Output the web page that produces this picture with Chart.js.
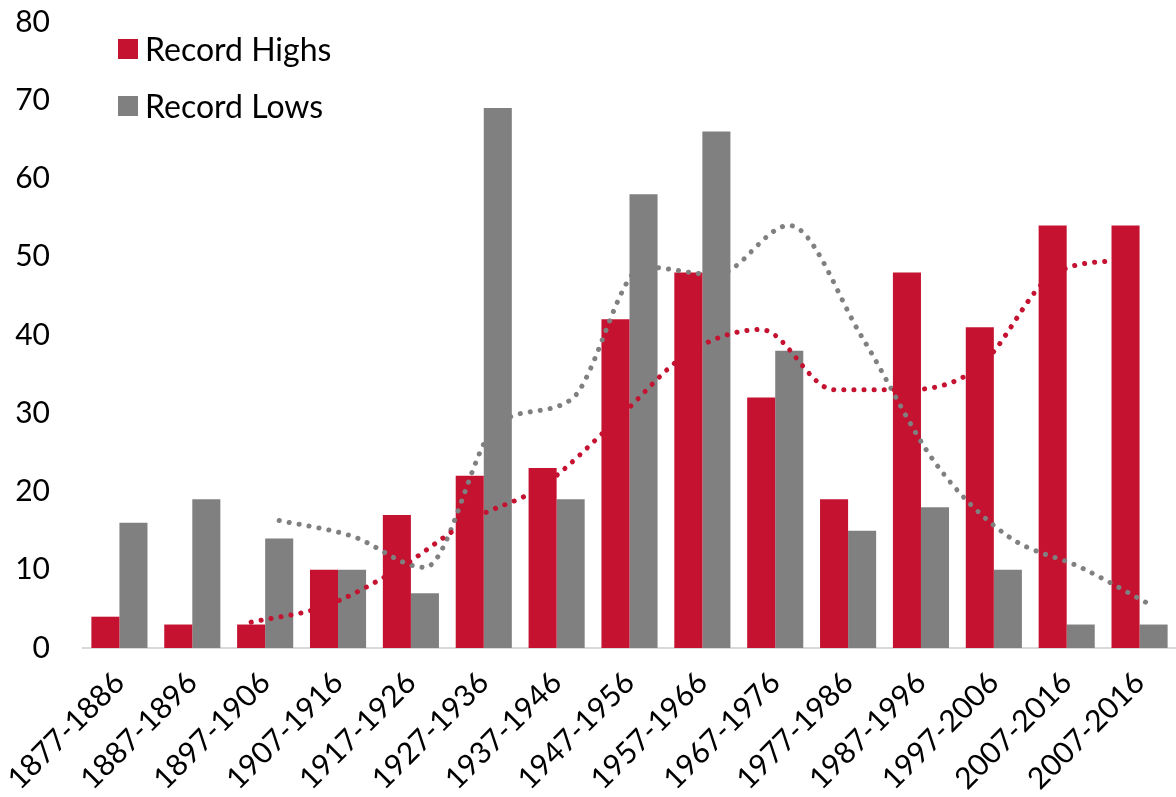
<!DOCTYPE html>
<html>
<head>
<meta charset="utf-8">
<script src="https://cdn.jsdelivr.net/npm/chart.js@4"></script>
<style>
  html, body { margin: 0; padding: 0; background: #fff; }
  #wrap { position: relative; width: 1176px; height: 797px; }
  #legend { position: absolute; left: 118px; top: 20px; font-family: Lato, sans-serif; font-size: 32px; color: #000; }
  #legend div { display: flex; align-items: center; height: 57px; }
  #legend span.box { display: inline-block; width: 20px; height: 20px; margin-right: 7px; }
</style>
</head>
<body>
<div id="wrap">
  <canvas id="chart" width="1176" height="797"></canvas>
  <div id="legend"></div>
</div>
<script>
const categories = ['1877-1886', '1887-1896', '1897-1906', '1907-1916', '1917-1926', '1927-1936', '1937-1946',
    '1947-1956', '1957-1966', '1967-1976', '1977-1986', '1987-1996', '1997-2006', '2007-2016', '2007-2016'];
const recordHighs = [4, 3, 3, 10, 17, 22, 23, 42, 48, 32, 19, 48, 41, 54, 54];
const recordLows = [16, 19, 14, 10, 7, 69, 19, 58, 66, 38, 15, 18, 10, 3, 3];
// dotted trend lines (3-period moving average)
const highsTrend = [null, null, 3.3, 5.3, 10, 16.3, 20.7, 29, 37.7, 40.7, 33, 33, 36, 47.7, 49.7];
const lowsTrend = [null, null, 16.3, 14.3, 10.3, 28.7, 31.7, 48.7, 47.7, 54, 39.7, 23.7, 14.3, 10.3, 5.3];
const yTicks = [0, 10, 20, 30, 40, 50, 60, 70, 80];

const red = '#C41230';
const gray = '#808080';

// each trend line is drawn over the centre of its own bar (side: -1 left bar, +1 right bar)
const shiftToBar = {
    id: 'shiftToBar',
    beforeDatasetDraw(chart, args) {
        const side = args.meta._dataset.barSide;
        if (!side) return;
        const bar = chart.getDatasetMeta(0).data[0];
        chart.ctx.save();
        chart.ctx.translate(side * bar.width / 2, 0);
    },
    afterDatasetDraw(chart, args) {
        if (args.meta._dataset.barSide) chart.ctx.restore();
    }
};

const trendStyle = (color, side) => ({
    type: 'line',
    barSide: side,
    borderColor: color,
    borderWidth: 5,
    borderDash: [0.1, 10],
    borderCapStyle: 'round',
    pointRadius: 0,
    fill: false,
    cubicInterpolationMode: 'monotone',
    order: 0
});

new Chart(document.getElementById('chart'), {
    type: 'bar',
    data: {
        labels: categories,
        datasets: [
            { label: 'Record Highs', data: recordHighs, backgroundColor: red, order: 1 },
            { label: 'Record Lows', data: recordLows, backgroundColor: gray, order: 1 },
            Object.assign({ label: 'highs trend', data: highsTrend }, trendStyle(red, -1)),
            Object.assign({ label: 'lows trend', data: lowsTrend }, trendStyle(gray, 1))
        ]
    },
    options: {
        responsive: false,
        animation: false,
        layout: { padding: 0 },
        datasets: { bar: { categoryPercentage: 0.77, barPercentage: 1.0, borderWidth: 0 } },
        plugins: { legend: { display: false }, tooltip: { enabled: false } },
        scales: {
            x: {
                grid: { display: false },
                border: { display: true, color: '#d9d9d9', width: 2 },
                ticks: {
                    color: '#000', font: { family: 'Lato', size: 30 },
                    minRotation: 45, maxRotation: 45, autoSkip: false, padding: 9
                },
                afterFit: (axis) => { axis.height = 149; }
            },
            y: {
                min: 0, max: 80,
                grid: { display: false, drawTicks: true, tickLength: 29 },
                border: { display: false },
                afterBuildTicks: (axis) => { axis.ticks = yTicks.map(v => ({ value: v })); },
                ticks: { color: '#000', font: { family: 'Lato', size: 30 }, padding: 4 },
                afterFit: (axis) => { axis.width = 83; }
            }
        }
    },
    plugins: [shiftToBar]
});

const legend = document.getElementById('legend');
[['Record Highs', red], ['Record Lows', gray]].forEach(([name, color]) => {
    const row = document.createElement('div');
    row.innerHTML = '<span class="box" style="background:' + color + '"></span>' + name;
    legend.appendChild(row);
});
</script>
</body>
</html>
